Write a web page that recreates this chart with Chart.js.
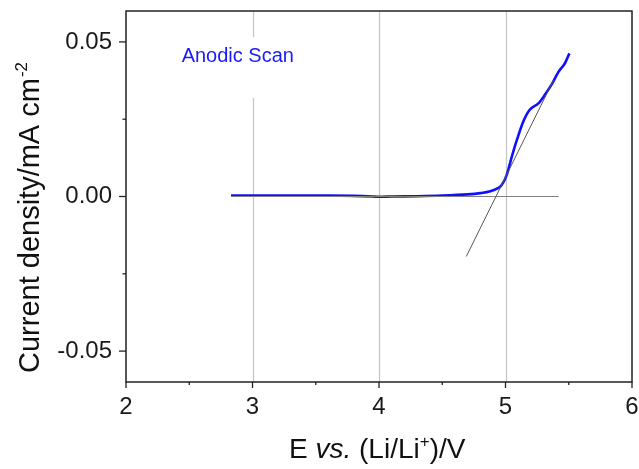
<!DOCTYPE html>
<html>
<head>
<meta charset="utf-8">
<script src="https://cdn.jsdelivr.net/npm/chart.js@4.4.1/dist/chart.umd.min.js"></script>
<style>
html,body{margin:0;padding:0;background:#fff;}
#wrap{width:639px;height:469px;position:relative;}
</style>
</head>
<body>
<div id="wrap"><canvas id="c" width="639" height="469"></canvas></div>
<script>
// ---- data ----
const scanE = [2.83, 3.0, 3.3, 3.6, 3.8, 3.95, 4.0, 4.1, 4.3, 4.5, 4.7, 4.8, 4.88, 4.94, 4.97, 5.01, 5.05, 5.09, 5.14, 5.19, 5.26, 5.31, 5.37, 5.42, 5.47, 5.505];
const scanJ = [0.0003, 0.0003, 0.0003, 0.0003, 0.0002, 0.0, -0.0001, 0.0, 0.0001, 0.0003, 0.0007, 0.0011, 0.0017, 0.0027, 0.0037, 0.0070, 0.0129, 0.0183, 0.0242, 0.0280, 0.0301, 0.0328, 0.0366, 0.0404, 0.0431, 0.0463];
const tangentE = [4.69, 5.38];
const tangentJ = [-0.0194, 0.0377];
const baseE = [2.83, 5.42];
const baseJ = [0, 0];
const xTicks = [2, 3, 4, 5, 6];
const xMinorTicks = [2.5, 3.5, 4.5, 5.5];
const yTicks = [-0.05, 0, 0.05];
const yMinorTicks = [-0.025, 0.025];
const xGrid = [3, 4, 5];
const annotationText = "Anodic Scan";
const annotationPos = [2.44, 0.0435];

const FONT = '"Liberation Sans", Arial, Helvetica, sans-serif';
const pts = (xs, ys) => xs.map((x, i) => ({x: x, y: ys[i]}));

const framePlugin = {
  id: 'frame',
  beforeDatasetsDraw(chart) {
    const {ctx, chartArea: a, scales: {x, y}} = chart;
    ctx.save();
    ctx.strokeStyle = '#c4c4c4';
    ctx.lineWidth = 1.2;
    xGrid.forEach(v => {
      const px = Math.round(x.getPixelForValue(v)) + 0.5;
      ctx.beginPath(); ctx.moveTo(px, a.top); ctx.lineTo(px, a.bottom); ctx.stroke();
    });
    // annotation white box over grid
    const ax = x.getPixelForValue(annotationPos[0]);
    const ay = y.getPixelForValue(annotationPos[1]);
    ctx.fillStyle = '#fff';
    ctx.fillRect(ax - 4, ay - 25, 124, 61);
    ctx.restore();
  },
  afterDatasetsDraw(chart) {
    const {ctx, chartArea: a, scales: {x, y}} = chart;
    ctx.save();
    // annotation
    ctx.fillStyle = '#1a1aff';
    ctx.font = '20px ' + FONT;
    ctx.textBaseline = 'alphabetic';
    ctx.textAlign = 'left';
    ctx.fillText(annotationText, x.getPixelForValue(annotationPos[0]), y.getPixelForValue(annotationPos[1]));
    // frame
    ctx.strokeStyle = '#222';
    ctx.lineWidth = 1.5;
    ctx.strokeRect(a.left, a.top, a.right - a.left, a.bottom - a.top);
    // ticks
    ctx.lineWidth = 1.3;
    xTicks.forEach(v => {
      const px = x.getPixelForValue(v);
      ctx.beginPath(); ctx.moveTo(px, a.bottom); ctx.lineTo(px, a.bottom + 6); ctx.stroke();
    });
    xMinorTicks.forEach(v => {
      const px = x.getPixelForValue(v);
      ctx.beginPath(); ctx.moveTo(px, a.bottom); ctx.lineTo(px, a.bottom + 3); ctx.stroke();
    });
    yTicks.forEach(v => {
      const py = y.getPixelForValue(v);
      ctx.beginPath(); ctx.moveTo(a.left, py); ctx.lineTo(a.left - 7, py); ctx.stroke();
    });
    yMinorTicks.forEach(v => {
      const py = y.getPixelForValue(v);
      ctx.beginPath(); ctx.moveTo(a.left, py); ctx.lineTo(a.left - 3.5, py); ctx.stroke();
    });
    // axis titles
    ctx.fillStyle = '#111';
    // x title
    let cx = 289, by = 458;
    const seg = (t, f, dy) => { ctx.font = f; ctx.fillText(t, cx, by + (dy || 0)); cx += ctx.measureText(t).width; };
    seg('E ', '28px ' + FONT);
    seg('vs.', 'italic 28px ' + FONT);
    seg(' (Li/Li', '28px ' + FONT);
    seg('+', '17px ' + FONT, -11);
    seg(')/V', '28px ' + FONT);
    // y title
    ctx.save();
    ctx.translate(39, 373);
    ctx.rotate(-Math.PI / 2);
    ctx.font = '29px ' + FONT;
    const main = 'Current density/mA cm';
    ctx.fillText(main, 0, 0);
    const w = ctx.measureText(main).width;
    ctx.font = '17px ' + FONT;
    ctx.fillText('-2', w + 1, -12);
    ctx.restore();
    ctx.restore();
  }
};

new Chart(document.getElementById('c'), {
  type: 'scatter',
  data: {
    datasets: [
      {data: pts(baseE, baseJ), showLine: true, borderColor: '#808080', borderWidth: 1.2, pointRadius: 0, tension: 0},
      {data: pts(tangentE, tangentJ), showLine: true, borderColor: '#555', borderWidth: 1, pointRadius: 0, tension: 0},
      {data: pts(scanE, scanJ), showLine: true, borderColor: '#1010ff', borderWidth: 2.6, pointRadius: 0, cubicInterpolationMode: 'monotone'}
    ]
  },
  options: {
    responsive: false,
    animation: false,
    events: [],
    layout: {padding: {top: 11, right: 7, left: 0, bottom: 0}},
    plugins: {legend: {display: false}, tooltip: {enabled: false}},
    scales: {
      x: {
        type: 'linear', min: 2, max: 6,
        afterBuildTicks: s => { s.ticks = xTicks.map(v => ({value: v})); },
        afterFit: s => { s.height = 87; s.paddingLeft = 0; s.paddingRight = 0; },
        grid: {display: false, drawTicks: false},
        border: {display: false},
        ticks: {padding: 11, color: '#1a1a1a', font: {size: 24, family: FONT}, maxRotation: 0, autoSkip: false, callback: v => String(v)}
      },
      y: {
        type: 'linear', min: -0.06, max: 0.06,
        afterBuildTicks: s => { s.ticks = yTicks.map(v => ({value: v})); },
        afterFit: s => { s.width = 126; s.paddingTop = 0; s.paddingBottom = 0; },
        grid: {display: false, drawTicks: false},
        border: {display: false},
        ticks: {padding: 14, color: '#1a1a1a', font: {size: 24, family: FONT}, autoSkip: false, callback: v => Number(v).toFixed(2)}
      }
    }
  },
  plugins: [framePlugin]
});
</script>
</body>
</html>
